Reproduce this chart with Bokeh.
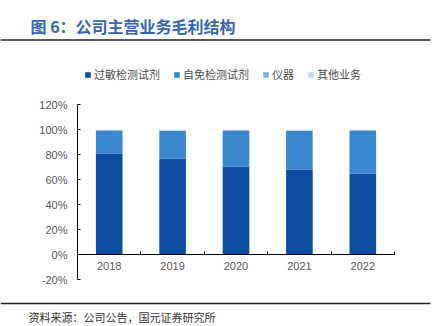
from bokeh.plotting import figure
from bokeh.models import (Range1d, FixedTicker, LinearAxis, PrintfTickFormatter, Legend,
                          LegendItem, Label, ColumnDataSource, BoxAnnotation)
from bokeh.embed import file_html
from bokeh.resources import INLINE

years = ["2018", "2019", "2020", "2021", "2022"]
allergy = [81.0, 77.0, 70.5, 68.0, 65.0]
autoimmune = [18.5, 22.0, 29.0, 31.0, 34.5]
instrument = [0.2, 0.3, 0.2, 0.3, 0.2]
other = [0.3, 0.7, 0.3, 0.7, 0.3]
series_names = ["过敏检测试剂", "自免检测试剂", "仪器", "其他业务"]
colors = ["#0C4DA2", "#3A87CE", "#80B3E1", "#BDD7EE"]
y_ticks = [-20, 0, 20, 40, 60, 80, 100, 120]

title_text = "图 6：公司主营业务毛利结构"
source_text = "资料来源：公司公告，国元证券研究所"

W, H = 444, 326
# frame covers the whole canvas; axes are pinned with fixed_location
AX_LEFT, AX_RIGHT = 77.0, 394.0       # canvas px of category span
Y0, PX_PER_PCT = 254.3, 1.25          # canvas px of 0% and scale
n = len(years)
ppu = (AX_RIGHT - AX_LEFT) / n
xr = Range1d(-AX_LEFT / ppu, n + (W - AX_RIGHT) / ppu)
yr = Range1d(-(H - Y0) / PX_PER_PCT, Y0 / PX_PER_PCT)

p = figure(width=W, height=H, output_backend="svg", toolbar_location=None,
           x_range=xr, y_range=yr, min_border=0,
           min_border_left=0, min_border_right=0, min_border_top=0, min_border_bottom=0)
p.xaxis.visible = False
p.yaxis.visible = False
p.outline_line_color = None
p.grid.visible = False

xpos = [i + 0.5 for i in range(n)]
src = ColumnDataSource(dict(x=xpos, a=allergy, b=autoimmune, c=instrument, d=other))
rs = p.vbar_stack(["a", "b", "c", "d"], x="x", width=0.42, source=src, color=colors,
                  line_color=None)

# y axis pinned at x = 0
yax = LinearAxis(ticker=FixedTicker(ticks=y_ticks), formatter=PrintfTickFormatter(format="%d%%"),
                 bounds=(y_ticks[0], y_ticks[-1]))
yax.fixed_location = 0
yax.axis_line_color = "black"
yax.major_tick_line_color = "black"
yax.major_tick_out = 0
yax.major_tick_in = 3
yax.minor_tick_line_color = None
yax.major_label_text_font = "Liberation Sans"
yax.major_label_text_font_size = "11px"
yax.major_label_text_color = "#595959"
yax.major_label_standoff = 10
p.add_layout(yax, "left")

# x axis pinned at y = 0: labels at category centres, ticks at boundaries
bounds = list(range(n + 1))
xax = LinearAxis(ticker=FixedTicker(ticks=xpos, minor_ticks=bounds),
                 major_label_overrides={x: y for x, y in zip(xpos, years)},
                 bounds=(0, n))
xax.fixed_location = 0
xax.axis_line_color = "black"
xax.major_tick_line_color = None
xax.major_tick_out = 0
xax.major_tick_in = 0
xax.minor_tick_line_color = "black"
xax.minor_tick_out = 0
xax.minor_tick_in = 3
xax.major_label_text_font = "Liberation Sans"
xax.major_label_text_font_size = "11px"
xax.major_label_text_color = "#595959"
xax.major_label_standoff = 7
p.add_layout(xax, "below")

legend = Legend(items=[LegendItem(label=nm, renderers=[r]) for nm, r in zip(series_names, rs)],
                orientation="horizontal", location=(84, 244))
legend.label_text_font = "Noto Sans CJK SC"
legend.label_text_font_size = "11px"
legend.label_text_color = "#4D4D4D"
legend.glyph_width = 7
legend.glyph_height = 7
legend.label_standoff = 3
legend.spacing = 13
legend.padding = 0
legend.margin = 0
legend.border_line_color = None
legend.background_fill_alpha = 0
p.add_layout(legend)

# header / footer rules
p.add_layout(BoxAnnotation(left=0, right=430, bottom=H - 40.2, top=H - 38.8,
                           left_units="screen", right_units="screen",
                           bottom_units="screen", top_units="screen",
                           fill_color="#222222", fill_alpha=1, line_color=None))
p.add_layout(BoxAnnotation(left=0, right=430, bottom=H - 303.7, top=H - 302.3,
                           left_units="screen", right_units="screen",
                           bottom_units="screen", top_units="screen",
                           fill_color="#222222", fill_alpha=1, line_color=None))

p.add_layout(Label(x=30, y=H - 25, x_units="screen", y_units="screen", text=title_text,
                   text_baseline="middle",
                   text_font="Noto Sans CJK SC", text_font_size="16px", text_font_style="bold",
                   text_color="#3566B0"))
p.add_layout(Label(x=28, y=H - 316, x_units="screen", y_units="screen", text=source_text,
                   text_baseline="middle",
                   text_font="Noto Sans CJK SC", text_font_size="11px", text_color="#333333"))

out = open("out.html", "w")
out.write(file_html(p, INLINE))
out.close()
